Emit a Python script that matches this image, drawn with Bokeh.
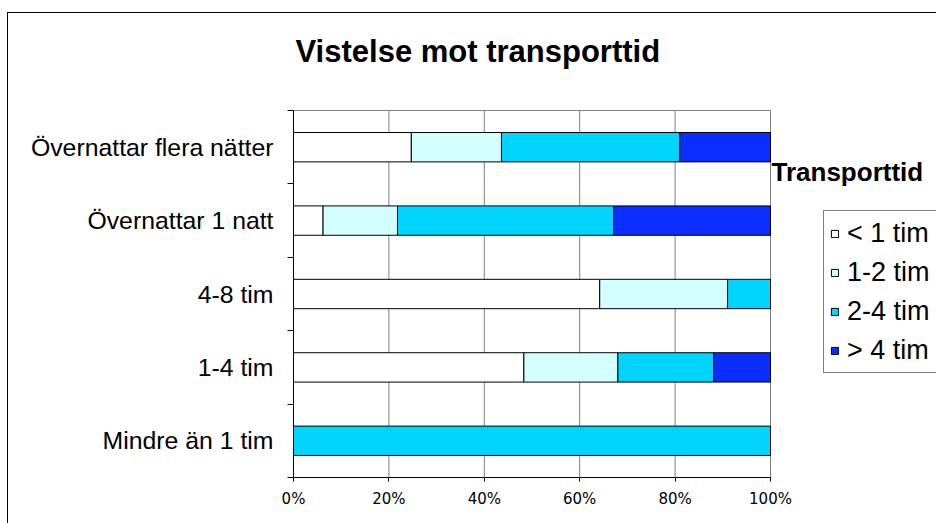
from bokeh.plotting import figure
from bokeh.models import (ColumnDataSource, Range1d, FixedTicker, Legend, LegendItem, Label)
from bokeh.embed import file_html
from bokeh.resources import INLINE

# ---- data ----
categories = ["Mindre än 1 tim", "1-4 tim", "4-8 tim", "Övernattar 1 natt", "Övernattar flera nätter"]
series_names = ["< 1 tim", "1-2 tim", "2-4 tim", "> 4 tim"]
lt1 = [0, 48.3, 64.2, 6.2, 24.7]
t1_2 = [0, 19.7, 26.8, 15.6, 18.9]
t2_4 = [100, 20.1, 9.0, 45.3, 37.4]
gt4 = [0, 11.9, 0, 32.9, 19.0]
x_ticks = [0, 20, 40, 60, 80, 100]
x_tick_labels = ["0%", "20%", "40%", "60%", "80%", "100%"]
colors = ["#FFFFFF", "#D4FFFF", "#00D4FF", "#0A2EFF"]
title_text = "Vistelse mot transporttid"
legend_title_text = "Transporttid"

ypos = [i + 0.5 for i in range(len(categories))]
ncat = len(categories)
source = ColumnDataSource(dict(y=ypos, s0=lt1, s1=t1_2, s2=t2_4, s3=gt4))

# layout (pixels)
W, H = 936, 523
left_px, right100_px = 293, 770
top_px, bottom_px = 110, 477
px_per_x = (right100_px - left_px) / 100.0
px_per_y = (bottom_px - top_px) / ncat
x_end = (W - left_px) / px_per_x
y_end = bottom_px / px_per_y

def dx(px):
    return (px - left_px) / px_per_x

def dy(py):
    return (bottom_px - py) / px_per_y

p = figure(width=W, height=H, output_backend="svg", toolbar_location=None,
           x_range=Range1d(0, x_end), y_range=Range1d(0, y_end),
           min_border_left=left_px, min_border_right=0,
           min_border_top=0, min_border_bottom=H - bottom_px)
p.border_fill_color = None
p.background_fill_color = None
p.outline_line_color = None
p.styles = {
    "background-image": "linear-gradient(#000000, #000000), linear-gradient(#000000, #000000)",
    "background-size": "1px 100%, 100% 1px",
    "background-position": "7px 12px, 7px 12px",
    "background-repeat": "no-repeat",
}
p.xgrid.visible = False
p.ygrid.visible = False

# vertical grid lines + top edge of plot area
p.segment(x0=x_ticks, y0=[0] * len(x_ticks), x1=x_ticks, y1=[ncat] * len(x_ticks),
          line_color="#808080", line_width=1)
p.segment(x0=[x_ticks[0]], y0=[ncat], x1=[x_ticks[-1]], y1=[ncat],
          line_color="#808080", line_width=1)

renderers = p.hbar_stack(["s0", "s1", "s2", "s3"], y="y", height=0.4, source=source,
                         color=colors, line_color="#000000", line_width=1)
for r, c in zip(renderers, colors):
    r.glyph.fill_color = c
    r.glyph.line_color = "#000000"

# title
p.add_layout(Label(x=dx(295), y=dy(51), text=title_text, text_font="Liberation Sans",
                   text_font_size="31px", text_font_style="bold", text_color="#000000",
                   text_baseline="alphabetic", text_align="left"))

# x axis
xa = p.xaxis[0]
xa.ticker = FixedTicker(ticks=x_ticks)
xa.bounds = (x_ticks[0], x_ticks[-1])
xa.major_label_overrides = {t: l for t, l in zip(x_ticks, x_tick_labels)}
xa.major_label_text_font = "DejaVu Sans"
xa.major_label_text_font_size = "15px"
xa.major_label_text_color = "#000000"
xa.major_tick_out = 4
xa.major_tick_in = 0
xa.minor_tick_out = 0
xa.minor_tick_in = 0
xa.axis_line_color = "#000000"
xa.major_tick_line_color = "#000000"
xa.major_label_standoff = 8

# y axis
ya = p.yaxis[0]
ya.ticker = FixedTicker(ticks=ypos, minor_ticks=list(range(ncat + 1)))
ya.bounds = (0, ncat)
ya.major_label_overrides = {y: c for y, c in zip(ypos, categories)}
ya.major_label_text_font = "Liberation Sans"
ya.major_label_text_font_size = "24.8px"
ya.major_label_text_color = "#000000"
ya.major_tick_out = 0
ya.major_tick_in = 0
ya.minor_tick_out = 6
ya.minor_tick_in = 0
ya.minor_tick_line_color = "#000000"
ya.axis_line_color = "#000000"
ya.major_label_standoff = 14

# legend
items = [LegendItem(label=n, renderers=[r]) for n, r in zip(series_names, renderers)]
legend = Legend(items=items, location=(530, 104), orientation="vertical")
legend.label_text_font = "Liberation Sans"
legend.label_text_font_size = "27px"
legend.label_text_color = "#000000"
legend.glyph_width = 9
legend.glyph_height = 9
legend.label_height = 32
legend.label_width = 110
legend.label_standoff = 8
legend.spacing = 7
legend.padding = 6
legend.margin = 0
legend.border_line_color = "#000000"
legend.border_line_width = 1
legend.background_fill_color = "#FFFFFF"
legend.background_fill_alpha = 1
p.add_layout(legend, "center")

p.add_layout(Label(x=dx(771), y=dy(171), text=legend_title_text, text_font="Liberation Sans",
                   text_font_size="26px", text_font_style="bold", text_color="#000000",
                   text_baseline="alphabetic", text_align="left"))

open("out.html", "w").write(file_html(p, INLINE))
